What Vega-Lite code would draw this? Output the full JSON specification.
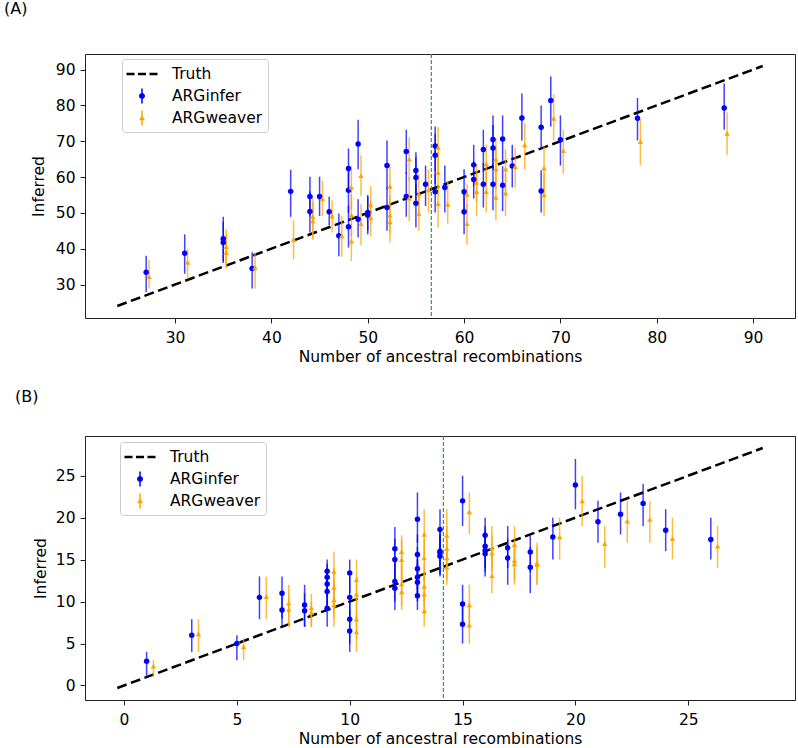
{
  "$schema": "https://vega.github.io/schema/vega-lite/v6.json",
  "padding": {"left": 3, "top": 0, "right": 3, "bottom": 2},
  "spacing": 22,
  "columns": 1,
  "align": "none",
  "config": {
    "font": "DejaVu Sans",
    "view": {"stroke": "#222222", "strokeWidth": 1},
    "axis": {
      "domain": false, "grid": false, "ticks": true, "tickColor": "#222222", "tickSize": 5, "tickWidth": 1,
      "labelFont": "DejaVu Sans", "labelFontSize": 15.5, "labelColor": "black",
      "titleFont": "DejaVu Sans", "titleFontSize": 15.5, "titleFontWeight": "normal", "titleColor": "black"
    },
    "axisX": {"labelPadding": 7, "titlePadding": 4},
    "axisY": {"labelPadding": 5, "titlePadding": 7},
    "legend": {
      "orient": "none", "title": null, "symbolSize": 400, "symbolStrokeWidth": 0, "symbolOffset": 5,
      "labelOffset": 20, "padding": 5, "rowPadding": 3, "labelFont": "DejaVu Sans", "labelFontSize": 15.5,
      "labelColor": "black", "strokeColor": "#cccccc", "fillColor": "rgba(255,255,255,0.85)", "cornerRadius": 3,
      "labelExpr": "datum.label + '\u00a0\u00a0'"
    },
    "title": {"font": "DejaVu Sans", "fontSize": 16, "fontWeight": "normal", "color": "black", "anchor": "start", "frame": "group", "baseline": "alphabetic"}
  },
  "datasets": {
    "a_truth": [{"x": 24, "y": 24, "series": "Truth"}, {"x": 91, "y": 91, "series": "Truth"}],
    "a_mean": [{"mean": 56.6}],
    "a_pts": [
      {"series": "ARGinfer", "x": 27, "y": 33.4, "lo": 27.9, "hi": 38.0},
      {"series": "ARGinfer", "x": 31, "y": 38.7, "lo": 33.0, "hi": 44.0},
      {"series": "ARGinfer", "x": 35, "y": 42.8, "lo": 36.5, "hi": 48.9},
      {"series": "ARGinfer", "x": 35, "y": 41.7, "lo": 36.0, "hi": 47.5},
      {"series": "ARGinfer", "x": 38, "y": 34.5, "lo": 28.9, "hi": 39.0},
      {"series": "ARGinfer", "x": 42, "y": 56.0, "lo": 48.9, "hi": 62.0},
      {"series": "ARGinfer", "x": 44, "y": 54.6, "lo": 49.0, "hi": 60.1},
      {"series": "ARGinfer", "x": 44, "y": 50.4, "lo": 44.5, "hi": 56.0},
      {"series": "ARGinfer", "x": 45, "y": 54.6, "lo": 49.1, "hi": 60.1},
      {"series": "ARGinfer", "x": 46, "y": 50.3, "lo": 46.5, "hi": 54.5},
      {"series": "ARGinfer", "x": 47, "y": 43.6, "lo": 37.9, "hi": 49.8},
      {"series": "ARGinfer", "x": 48, "y": 62.4, "lo": 56.0, "hi": 68.0},
      {"series": "ARGinfer", "x": 48, "y": 56.3, "lo": 50.0, "hi": 62.0},
      {"series": "ARGinfer", "x": 48, "y": 46.1, "lo": 40.3, "hi": 52.0},
      {"series": "ARGinfer", "x": 49, "y": 69.2, "lo": 62.2, "hi": 76.0},
      {"series": "ARGinfer", "x": 49, "y": 48.2, "lo": 43.1, "hi": 53.8},
      {"series": "ARGinfer", "x": 50, "y": 50.1, "lo": 45.0, "hi": 55.0},
      {"series": "ARGinfer", "x": 50, "y": 49.3, "lo": 44.0, "hi": 54.5},
      {"series": "ARGinfer", "x": 52, "y": 63.2, "lo": 56.6, "hi": 70.2},
      {"series": "ARGinfer", "x": 52, "y": 51.5, "lo": 45.0, "hi": 57.1},
      {"series": "ARGinfer", "x": 54, "y": 67.1, "lo": 60.8, "hi": 73.2},
      {"series": "ARGinfer", "x": 54, "y": 54.6, "lo": 48.9, "hi": 61.3},
      {"series": "ARGinfer", "x": 55, "y": 61.8, "lo": 55.5, "hi": 66.9},
      {"series": "ARGinfer", "x": 55, "y": 59.9, "lo": 53.5, "hi": 65.5},
      {"series": "ARGinfer", "x": 55, "y": 52.7, "lo": 45.9, "hi": 58.0},
      {"series": "ARGinfer", "x": 56, "y": 58.0, "lo": 51.9, "hi": 63.2},
      {"series": "ARGinfer", "x": 57, "y": 68.7, "lo": 61.5, "hi": 74.1},
      {"series": "ARGinfer", "x": 57, "y": 66.1, "lo": 58.0, "hi": 72.0},
      {"series": "ARGinfer", "x": 57, "y": 55.9, "lo": 50.1, "hi": 61.0},
      {"series": "ARGinfer", "x": 58, "y": 57.1, "lo": 50.1, "hi": 63.2},
      {"series": "ARGinfer", "x": 60, "y": 55.9, "lo": 49.5, "hi": 62.2},
      {"series": "ARGinfer", "x": 60, "y": 50.3, "lo": 44.0, "hi": 56.0},
      {"series": "ARGinfer", "x": 61, "y": 63.4, "lo": 57.5, "hi": 69.0},
      {"series": "ARGinfer", "x": 61, "y": 59.3, "lo": 54.0, "hi": 64.5},
      {"series": "ARGinfer", "x": 62, "y": 67.7, "lo": 61.5, "hi": 73.2},
      {"series": "ARGinfer", "x": 62, "y": 58.0, "lo": 51.5, "hi": 64.0},
      {"series": "ARGinfer", "x": 63, "y": 70.5, "lo": 64.0, "hi": 77.2},
      {"series": "ARGinfer", "x": 63, "y": 68.1, "lo": 62.0, "hi": 74.5},
      {"series": "ARGinfer", "x": 63, "y": 58.0, "lo": 50.7, "hi": 64.0},
      {"series": "ARGinfer", "x": 64, "y": 70.6, "lo": 64.0, "hi": 77.2},
      {"series": "ARGinfer", "x": 64, "y": 57.7, "lo": 50.5, "hi": 63.0},
      {"series": "ARGinfer", "x": 65, "y": 63.1, "lo": 57.1, "hi": 69.0},
      {"series": "ARGinfer", "x": 66, "y": 76.5, "lo": 70.2, "hi": 83.3},
      {"series": "ARGinfer", "x": 68, "y": 73.9, "lo": 67.8, "hi": 80.0},
      {"series": "ARGinfer", "x": 68, "y": 56.1, "lo": 50.1, "hi": 61.9},
      {"series": "ARGinfer", "x": 69, "y": 81.4, "lo": 74.1, "hi": 88.1},
      {"series": "ARGinfer", "x": 70, "y": 70.4, "lo": 63.2, "hi": 77.2},
      {"series": "ARGinfer", "x": 78, "y": 76.4, "lo": 70.2, "hi": 82.1},
      {"series": "ARGinfer", "x": 87, "y": 79.3, "lo": 73.2, "hi": 86.1},
      {"series": "ARGweaver", "x": 27.3, "y": 32.2, "lo": 28.9, "hi": 37.0},
      {"series": "ARGweaver", "x": 31.3, "y": 36.2, "lo": 31.6, "hi": 40.0},
      {"series": "ARGweaver", "x": 35.3, "y": 40.6, "lo": 35.5, "hi": 45.5},
      {"series": "ARGweaver", "x": 35.3, "y": 39.0, "lo": 34.5, "hi": 44.0},
      {"series": "ARGweaver", "x": 38.3, "y": 34.8, "lo": 28.9, "hi": 38.9},
      {"series": "ARGweaver", "x": 42.3, "y": 42.6, "lo": 37.0, "hi": 47.9},
      {"series": "ARGweaver", "x": 44.3, "y": 48.9, "lo": 43.0, "hi": 54.5},
      {"series": "ARGweaver", "x": 44.3, "y": 47.7, "lo": 42.5, "hi": 53.0},
      {"series": "ARGweaver", "x": 45.3, "y": 53.9, "lo": 49.1, "hi": 59.0},
      {"series": "ARGweaver", "x": 46.3, "y": 49.1, "lo": 44.5, "hi": 53.5},
      {"series": "ARGweaver", "x": 47.3, "y": 43.6, "lo": 37.7, "hi": 49.1},
      {"series": "ARGweaver", "x": 48.3, "y": 57.1, "lo": 51.0, "hi": 63.0},
      {"series": "ARGweaver", "x": 48.3, "y": 49.4, "lo": 43.5, "hi": 55.0},
      {"series": "ARGweaver", "x": 48.3, "y": 42.1, "lo": 36.5, "hi": 47.0},
      {"series": "ARGweaver", "x": 49.3, "y": 60.4, "lo": 54.8, "hi": 66.0},
      {"series": "ARGweaver", "x": 49.3, "y": 47.0, "lo": 41.0, "hi": 52.4},
      {"series": "ARGweaver", "x": 50.3, "y": 52.2, "lo": 47.0, "hi": 57.5},
      {"series": "ARGweaver", "x": 50.3, "y": 48.7, "lo": 43.5, "hi": 53.5},
      {"series": "ARGweaver", "x": 52.3, "y": 57.4, "lo": 51.5, "hi": 63.2},
      {"series": "ARGweaver", "x": 52.3, "y": 49.4, "lo": 44.0, "hi": 55.0},
      {"series": "ARGweaver", "x": 52.3, "y": 47.5, "lo": 41.7, "hi": 53.0},
      {"series": "ARGweaver", "x": 54.3, "y": 65.0, "lo": 59.0, "hi": 71.1},
      {"series": "ARGweaver", "x": 54.3, "y": 54.1, "lo": 47.7, "hi": 60.0},
      {"series": "ARGweaver", "x": 55.3, "y": 55.2, "lo": 49.5, "hi": 61.0},
      {"series": "ARGweaver", "x": 55.3, "y": 49.8, "lo": 45.0, "hi": 55.5},
      {"series": "ARGweaver", "x": 56.3, "y": 56.4, "lo": 50.1, "hi": 62.0},
      {"series": "ARGweaver", "x": 57.3, "y": 68.3, "lo": 62.0, "hi": 74.1},
      {"series": "ARGweaver", "x": 57.3, "y": 61.3, "lo": 55.0, "hi": 67.0},
      {"series": "ARGweaver", "x": 57.3, "y": 52.6, "lo": 45.9, "hi": 58.0},
      {"series": "ARGweaver", "x": 58.3, "y": 52.4, "lo": 47.0, "hi": 59.0},
      {"series": "ARGweaver", "x": 60.3, "y": 55.2, "lo": 49.5, "hi": 58.0},
      {"series": "ARGweaver", "x": 60.3, "y": 47.0, "lo": 41.0, "hi": 52.5},
      {"series": "ARGweaver", "x": 61.3, "y": 58.5, "lo": 53.0, "hi": 63.6},
      {"series": "ARGweaver", "x": 61.3, "y": 55.9, "lo": 49.1, "hi": 61.5},
      {"series": "ARGweaver", "x": 62.3, "y": 63.6, "lo": 58.0, "hi": 69.0},
      {"series": "ARGweaver", "x": 62.3, "y": 55.9, "lo": 50.1, "hi": 61.5},
      {"series": "ARGweaver", "x": 63.3, "y": 65.0, "lo": 59.0, "hi": 70.9},
      {"series": "ARGweaver", "x": 63.3, "y": 62.2, "lo": 56.5, "hi": 68.0},
      {"series": "ARGweaver", "x": 63.3, "y": 54.3, "lo": 47.9, "hi": 60.0},
      {"series": "ARGweaver", "x": 64.3, "y": 62.2, "lo": 56.0, "hi": 67.8},
      {"series": "ARGweaver", "x": 64.3, "y": 55.5, "lo": 49.1, "hi": 61.0},
      {"series": "ARGweaver", "x": 65.3, "y": 62.9, "lo": 57.1, "hi": 68.1},
      {"series": "ARGweaver", "x": 66.3, "y": 69.0, "lo": 62.2, "hi": 75.0},
      {"series": "ARGweaver", "x": 68.3, "y": 62.5, "lo": 56.1, "hi": 68.5},
      {"series": "ARGweaver", "x": 68.3, "y": 55.0, "lo": 49.1, "hi": 61.0},
      {"series": "ARGweaver", "x": 69.3, "y": 76.4, "lo": 70.2, "hi": 83.1},
      {"series": "ARGweaver", "x": 70.3, "y": 67.4, "lo": 61.0, "hi": 73.2},
      {"series": "ARGweaver", "x": 78.3, "y": 69.9, "lo": 63.2, "hi": 76.2},
      {"series": "ARGweaver", "x": 87.3, "y": 72.2, "lo": 66.1, "hi": 78.1}
    ],
    "b_truth": [{"x": -0.3, "y": -0.3, "series": "Truth"}, {"x": 28.3, "y": 28.3, "series": "Truth"}],
    "b_mean": [{"mean": 14.15}],
    "b_pts": [
      {"series": "ARGinfer", "x": 1, "y": 2.9, "lo": 1.1, "hi": 4.0},
      {"series": "ARGinfer", "x": 3, "y": 6.0, "lo": 4.0, "hi": 7.9},
      {"series": "ARGinfer", "x": 5, "y": 5.0, "lo": 3.0, "hi": 6.0},
      {"series": "ARGinfer", "x": 6, "y": 10.5, "lo": 7.9, "hi": 13.0},
      {"series": "ARGinfer", "x": 7, "y": 11.0, "lo": 8.0, "hi": 13.0},
      {"series": "ARGinfer", "x": 7, "y": 9.0, "lo": 7.0, "hi": 11.0},
      {"series": "ARGinfer", "x": 8, "y": 9.6, "lo": 7.0, "hi": 12.0},
      {"series": "ARGinfer", "x": 8, "y": 8.9, "lo": 7.0, "hi": 11.0},
      {"series": "ARGinfer", "x": 9, "y": 13.6, "lo": 11.0, "hi": 15.0},
      {"series": "ARGinfer", "x": 9, "y": 12.9, "lo": 10.5, "hi": 14.5},
      {"series": "ARGinfer", "x": 9, "y": 12.1, "lo": 9.5, "hi": 14.0},
      {"series": "ARGinfer", "x": 9, "y": 11.2, "lo": 9.0, "hi": 13.5},
      {"series": "ARGinfer", "x": 9, "y": 9.2, "lo": 7.0, "hi": 11.5},
      {"series": "ARGinfer", "x": 10, "y": 13.4, "lo": 11.0, "hi": 15.0},
      {"series": "ARGinfer", "x": 10, "y": 10.5, "lo": 8.0, "hi": 13.0},
      {"series": "ARGinfer", "x": 10, "y": 7.9, "lo": 5.0, "hi": 10.0},
      {"series": "ARGinfer", "x": 10, "y": 6.5, "lo": 4.0, "hi": 9.0},
      {"series": "ARGinfer", "x": 12, "y": 16.3, "lo": 14.0, "hi": 18.9},
      {"series": "ARGinfer", "x": 12, "y": 15.0, "lo": 12.0, "hi": 17.5},
      {"series": "ARGinfer", "x": 12, "y": 12.4, "lo": 10.0, "hi": 15.0},
      {"series": "ARGinfer", "x": 12, "y": 11.6, "lo": 9.0, "hi": 14.0},
      {"series": "ARGinfer", "x": 13, "y": 19.8, "lo": 17.0, "hi": 23.0},
      {"series": "ARGinfer", "x": 13, "y": 15.6, "lo": 13.0, "hi": 18.0},
      {"series": "ARGinfer", "x": 13, "y": 13.9, "lo": 11.5, "hi": 16.5},
      {"series": "ARGinfer", "x": 13, "y": 12.9, "lo": 10.5, "hi": 15.0},
      {"series": "ARGinfer", "x": 13, "y": 12.3, "lo": 10.0, "hi": 14.5},
      {"series": "ARGinfer", "x": 13, "y": 10.7, "lo": 9.0, "hi": 13.0},
      {"series": "ARGinfer", "x": 14, "y": 18.6, "lo": 16.0, "hi": 21.0},
      {"series": "ARGinfer", "x": 14, "y": 16.0, "lo": 13.5, "hi": 18.5},
      {"series": "ARGinfer", "x": 14, "y": 15.8, "lo": 13.2, "hi": 18.0},
      {"series": "ARGinfer", "x": 14, "y": 15.4, "lo": 13.0, "hi": 18.0},
      {"series": "ARGinfer", "x": 15, "y": 22.0, "lo": 19.0, "hi": 25.0},
      {"series": "ARGinfer", "x": 15, "y": 9.7, "lo": 7.0, "hi": 12.0},
      {"series": "ARGinfer", "x": 15, "y": 7.3, "lo": 5.0, "hi": 9.5},
      {"series": "ARGinfer", "x": 16, "y": 17.9, "lo": 15.5, "hi": 20.0},
      {"series": "ARGinfer", "x": 16, "y": 16.6, "lo": 14.0, "hi": 19.0},
      {"series": "ARGinfer", "x": 16, "y": 16.1, "lo": 13.5, "hi": 18.5},
      {"series": "ARGinfer", "x": 16, "y": 15.7, "lo": 13.0, "hi": 18.0},
      {"series": "ARGinfer", "x": 17, "y": 16.4, "lo": 14.0, "hi": 19.0},
      {"series": "ARGinfer", "x": 17, "y": 15.2, "lo": 12.0, "hi": 17.5},
      {"series": "ARGinfer", "x": 18, "y": 15.9, "lo": 13.5, "hi": 17.9},
      {"series": "ARGinfer", "x": 18, "y": 14.1, "lo": 11.0, "hi": 16.5},
      {"series": "ARGinfer", "x": 19, "y": 17.7, "lo": 15.0, "hi": 20.0},
      {"series": "ARGinfer", "x": 20, "y": 23.9, "lo": 21.0, "hi": 27.0},
      {"series": "ARGinfer", "x": 21, "y": 19.5, "lo": 17.0, "hi": 22.0},
      {"series": "ARGinfer", "x": 22, "y": 20.4, "lo": 18.0, "hi": 23.0},
      {"series": "ARGinfer", "x": 23, "y": 21.7, "lo": 19.0, "hi": 24.0},
      {"series": "ARGinfer", "x": 24, "y": 18.5, "lo": 16.0, "hi": 21.0},
      {"series": "ARGinfer", "x": 26, "y": 17.4, "lo": 15.0, "hi": 20.0},
      {"series": "ARGweaver", "x": 1.3, "y": 2.3, "lo": 1.0, "hi": 3.0},
      {"series": "ARGweaver", "x": 3.3, "y": 6.15, "lo": 4.0, "hi": 7.9},
      {"series": "ARGweaver", "x": 5.3, "y": 4.6, "lo": 3.0, "hi": 5.6},
      {"series": "ARGweaver", "x": 6.3, "y": 10.6, "lo": 7.9, "hi": 13.0},
      {"series": "ARGweaver", "x": 7.3, "y": 9.8, "lo": 7.0, "hi": 12.0},
      {"series": "ARGweaver", "x": 7.3, "y": 9.1, "lo": 7.0, "hi": 11.0},
      {"series": "ARGweaver", "x": 8.3, "y": 9.25, "lo": 7.0, "hi": 10.9},
      {"series": "ARGweaver", "x": 8.3, "y": 8.7, "lo": 7.0, "hi": 10.0},
      {"series": "ARGweaver", "x": 9.3, "y": 13.6, "lo": 11.0, "hi": 15.95},
      {"series": "ARGweaver", "x": 9.3, "y": 11.7, "lo": 9.0, "hi": 14.0},
      {"series": "ARGweaver", "x": 9.3, "y": 10.2, "lo": 8.0, "hi": 12.5},
      {"series": "ARGweaver", "x": 9.3, "y": 9.6, "lo": 7.0, "hi": 12.0},
      {"series": "ARGweaver", "x": 10.3, "y": 12.6, "lo": 10.0, "hi": 15.0},
      {"series": "ARGweaver", "x": 10.3, "y": 10.9, "lo": 8.0, "hi": 13.0},
      {"series": "ARGweaver", "x": 10.3, "y": 7.9, "lo": 5.5, "hi": 10.5},
      {"series": "ARGweaver", "x": 10.3, "y": 6.4, "lo": 4.0, "hi": 8.5},
      {"series": "ARGweaver", "x": 12.3, "y": 15.95, "lo": 13.5, "hi": 17.9},
      {"series": "ARGweaver", "x": 12.3, "y": 15.0, "lo": 12.5, "hi": 17.5},
      {"series": "ARGweaver", "x": 12.3, "y": 12.1, "lo": 9.5, "hi": 14.5},
      {"series": "ARGweaver", "x": 12.3, "y": 11.15, "lo": 9.0, "hi": 13.5},
      {"series": "ARGweaver", "x": 13.3, "y": 18.0, "lo": 15.0, "hi": 21.0},
      {"series": "ARGweaver", "x": 13.3, "y": 15.2, "lo": 12.5, "hi": 17.5},
      {"series": "ARGweaver", "x": 13.3, "y": 11.8, "lo": 9.5, "hi": 14.5},
      {"series": "ARGweaver", "x": 13.3, "y": 10.9, "lo": 8.5, "hi": 13.0},
      {"series": "ARGweaver", "x": 13.3, "y": 8.9, "lo": 7.0, "hi": 11.0},
      {"series": "ARGweaver", "x": 14.3, "y": 17.9, "lo": 15.5, "hi": 21.0},
      {"series": "ARGweaver", "x": 14.3, "y": 16.35, "lo": 14.0, "hi": 19.0},
      {"series": "ARGweaver", "x": 14.3, "y": 15.2, "lo": 12.5, "hi": 17.5},
      {"series": "ARGweaver", "x": 14.3, "y": 14.1, "lo": 12.0, "hi": 16.5},
      {"series": "ARGweaver", "x": 15.3, "y": 20.7, "lo": 18.0, "hi": 23.0},
      {"series": "ARGweaver", "x": 15.3, "y": 9.6, "lo": 7.0, "hi": 12.0},
      {"series": "ARGweaver", "x": 15.3, "y": 7.2, "lo": 5.0, "hi": 9.5},
      {"series": "ARGweaver", "x": 16.3, "y": 16.4, "lo": 14.0, "hi": 19.0},
      {"series": "ARGweaver", "x": 16.3, "y": 15.8, "lo": 13.5, "hi": 18.0},
      {"series": "ARGweaver", "x": 16.3, "y": 13.1, "lo": 11.0, "hi": 15.5},
      {"series": "ARGweaver", "x": 17.3, "y": 16.8, "lo": 14.5, "hi": 19.0},
      {"series": "ARGweaver", "x": 17.3, "y": 14.9, "lo": 12.5, "hi": 17.0},
      {"series": "ARGweaver", "x": 17.3, "y": 14.5, "lo": 12.0, "hi": 16.5},
      {"series": "ARGweaver", "x": 18.3, "y": 14.6, "lo": 12.0, "hi": 17.0},
      {"series": "ARGweaver", "x": 18.3, "y": 14.4, "lo": 12.0, "hi": 16.5},
      {"series": "ARGweaver", "x": 19.3, "y": 17.7, "lo": 15.0, "hi": 20.0},
      {"series": "ARGweaver", "x": 20.3, "y": 22.0, "lo": 19.0, "hi": 25.0},
      {"series": "ARGweaver", "x": 21.3, "y": 16.9, "lo": 14.0, "hi": 19.0},
      {"series": "ARGweaver", "x": 22.3, "y": 19.6, "lo": 17.0, "hi": 22.0},
      {"series": "ARGweaver", "x": 23.3, "y": 19.8, "lo": 17.0, "hi": 22.0},
      {"series": "ARGweaver", "x": 24.3, "y": 17.5, "lo": 15.0, "hi": 20.0},
      {"series": "ARGweaver", "x": 26.3, "y": 16.6, "lo": 14.0, "hi": 19.0}
    ]
  },
  "resolve": {
    "scale": {"x": "independent", "y": "independent", "color": "independent", "shape": "independent"},
    "legend": {"color": "independent", "shape": "independent"}
  },
  "concat": [
    {
      "width": 710,
      "height": 264,
      "title": {"text": "(A)", "dx": -81, "offset": 36},
      "layer": [
        {
          "data": {"name": "a_truth"},
          "mark": {"type": "line", "strokeWidth": 2.5, "strokeDash": [10, 4.5], "clip": true},
          "encoding": {
            "x": {"field": "x", "type": "quantitative", "scale": {"domain": [20.65, 94.35], "nice": false, "zero": false}, "axis": {"values": [30, 40, 50, 60, 70, 80, 90], "title": "Number of ancestral recombinations"}},
            "y": {"field": "y", "type": "quantitative", "scale": {"domain": [20.65, 94.35], "nice": false, "zero": false}, "axis": {"values": [30, 40, 50, 60, 70, 80, 90], "title": "Inferred", "minExtent": 66, "titleX": -39, "titleY": 132}},
            "color": {
              "field": "series", "type": "nominal",
              "scale": {"domain": ["Truth", "ARGinfer", "ARGweaver"], "range": ["black", "blue", "orange"]},
              "legend": {
                "legendX": 37, "legendY": 5,
                "encode": {"symbols": {"update": {
                  "shape": {"signal": "datum.value === 'Truth' ? 'M-1.55,-0.125H-0.75V0.125H-1.55Z M-0.4,-0.125H0.4V0.125H-0.4Z M0.75,-0.125H1.55V0.125H0.75Z' : datum.value === 'ARGinfer' ? 'M-0.075,-0.75H0.075V0.75H-0.075Z M0.3,0A0.3,0.3,0,1,1,-0.3,0A0.3,0.3,0,1,1,0.3,0Z' : 'M-0.075,-0.75H0.075V0.75H-0.075Z M0,-0.32L0.3,0.22L-0.3,0.22Z'"},
                  "fill": {"signal": "datum.value === 'Truth' ? 'black' : datum.value === 'ARGinfer' ? 'blue' : 'orange'"},
                  "opacity": {"value": 1},
                  "strokeWidth": {"value": 0}
                }}}
              }
            }
          }
        },
        {
          "data": {"name": "a_pts"},
          "mark": {"type": "rule", "strokeWidth": 1.5, "opacity": 0.75},
          "encoding": {
            "x": {"field": "x", "type": "quantitative"},
            "y": {"field": "lo", "type": "quantitative"},
            "y2": {"field": "hi"},
            "color": {"field": "series", "type": "nominal", "legend": null}
          }
        },
        {
          "data": {"name": "a_pts"},
          "mark": {"type": "point", "filled": true, "opacity": 1, "size": 30},
          "encoding": {
            "x": {"field": "x", "type": "quantitative"},
            "y": {"field": "y", "type": "quantitative"},
            "color": {"field": "series", "type": "nominal", "legend": null},
            "shape": {"field": "series", "type": "nominal", "scale": {"domain": ["ARGinfer", "ARGweaver"], "range": ["circle", "triangle-up"]}, "legend": null}
          }
        },
        {
          "data": {"name": "a_mean"},
          "mark": {"type": "rule", "color": "#2ca02c", "strokeWidth": 1.2, "strokeDash": [4, 2]},
          "encoding": {"x": {"field": "mean", "type": "quantitative"}}
        }
      ]
    },
    {
      "width": 710,
      "height": 264,
      "title": {"text": "(B)", "dx": -70, "offset": 30},
      "layer": [
        {
          "data": {"name": "b_truth"},
          "mark": {"type": "line", "strokeWidth": 2.5, "strokeDash": [10, 4.5], "clip": true},
          "encoding": {
            "x": {"field": "x", "type": "quantitative", "scale": {"domain": [-1.73, 29.73], "nice": false, "zero": false}, "axis": {"values": [0, 5, 10, 15, 20, 25], "title": "Number of ancestral recombinations"}},
            "y": {"field": "y", "type": "quantitative", "scale": {"domain": [-1.73, 29.73], "nice": false, "zero": false}, "axis": {"values": [0, 5, 10, 15, 20, 25], "title": "Inferred"}},
            "color": {
              "field": "series", "type": "nominal",
              "scale": {"domain": ["Truth", "ARGinfer", "ARGweaver"], "range": ["black", "blue", "orange"]},
              "legend": {
                "legendX": 35, "legendY": 6,
                "encode": {"symbols": {"update": {
                  "shape": {"signal": "datum.value === 'Truth' ? 'M-1.55,-0.125H-0.75V0.125H-1.55Z M-0.4,-0.125H0.4V0.125H-0.4Z M0.75,-0.125H1.55V0.125H0.75Z' : datum.value === 'ARGinfer' ? 'M-0.075,-0.75H0.075V0.75H-0.075Z M0.3,0A0.3,0.3,0,1,1,-0.3,0A0.3,0.3,0,1,1,0.3,0Z' : 'M-0.075,-0.75H0.075V0.75H-0.075Z M0,-0.32L0.3,0.22L-0.3,0.22Z'"},
                  "fill": {"signal": "datum.value === 'Truth' ? 'black' : datum.value === 'ARGinfer' ? 'blue' : 'orange'"},
                  "opacity": {"value": 1},
                  "strokeWidth": {"value": 0}
                }}}
              }
            }
          }
        },
        {
          "data": {"name": "b_pts"},
          "mark": {"type": "rule", "strokeWidth": 1.5, "opacity": 0.75},
          "encoding": {
            "x": {"field": "x", "type": "quantitative"},
            "y": {"field": "lo", "type": "quantitative"},
            "y2": {"field": "hi"},
            "color": {"field": "series", "type": "nominal", "legend": null}
          }
        },
        {
          "data": {"name": "b_pts"},
          "mark": {"type": "point", "filled": true, "opacity": 1, "size": 30},
          "encoding": {
            "x": {"field": "x", "type": "quantitative"},
            "y": {"field": "y", "type": "quantitative"},
            "color": {"field": "series", "type": "nominal", "legend": null},
            "shape": {"field": "series", "type": "nominal", "scale": {"domain": ["ARGinfer", "ARGweaver"], "range": ["circle", "triangle-up"]}, "legend": null}
          }
        },
        {
          "data": {"name": "b_mean"},
          "mark": {"type": "rule", "color": "#2ca02c", "strokeWidth": 1.2, "strokeDash": [4, 2]},
          "encoding": {"x": {"field": "mean", "type": "quantitative"}}
        }
      ]
    }
  ]
}
